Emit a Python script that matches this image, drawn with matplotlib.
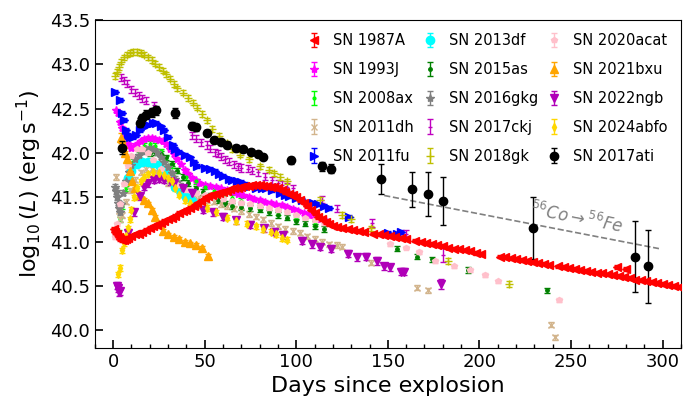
import numpy as np
import matplotlib
matplotlib.use("Agg")
import matplotlib.pyplot as plt
from matplotlib.ticker import MultipleLocator

# Data
# SN 1987A
d_87a = [0.5, 1, 2, 3, 4, 5, 6, 7, 8, 10, 12, 14, 16, 18, 20, 22, 24, 26, 28, 30,
         32, 34, 36, 38, 40, 42, 44, 46, 48, 50, 52, 54, 56, 58, 60, 62, 64, 66, 68, 70,
         72, 74, 76, 78, 80, 82, 84, 86, 88, 90, 92, 94, 96, 98, 100, 102, 104, 106, 108, 110,
         112, 114, 116, 118, 120, 122, 125, 128, 131, 134, 137, 142, 145, 148, 151, 154, 157, 160,
         165, 168, 171, 174, 177, 180, 183, 186, 189, 192, 195, 198, 201,
         211, 214, 217, 220, 223, 226, 229, 232, 235, 238,
         243, 246, 249, 252, 255, 258, 261, 264, 267, 270, 273, 275, 276, 279, 280, 282, 285,
         288, 291, 294, 297, 300, 303, 306, 309]
L_87a = [41.14, 41.11, 41.08, 41.05, 41.03, 41.02, 41.02, 41.03, 41.04, 41.06, 41.08, 41.09, 41.11, 41.13, 41.15, 41.17, 41.19, 41.21, 41.23, 41.25,
         41.27, 41.29, 41.32, 41.34, 41.36, 41.38, 41.40, 41.43, 41.46, 41.49, 41.51, 41.53, 41.54, 41.55, 41.56, 41.57, 41.59, 41.60, 41.61, 41.62,
         41.63, 41.63, 41.64, 41.64, 41.64, 41.63, 41.63, 41.62, 41.62, 41.60, 41.58, 41.56, 41.54, 41.52, 41.50, 41.47, 41.44, 41.40, 41.36, 41.32,
         41.28, 41.25, 41.22, 41.20, 41.18, 41.16, 41.15, 41.14, 41.13, 41.12, 41.11, 41.09, 41.08, 41.07, 41.06, 41.05, 41.04, 41.03,
         41.01, 41.00, 40.98, 40.97, 40.96, 40.95, 40.93, 40.92, 40.91, 40.90, 40.89, 40.87, 40.86,
         40.83, 40.82, 40.81, 40.80, 40.79, 40.78, 40.77, 40.76, 40.75, 40.74,
         40.72, 40.71, 40.70, 40.69, 40.68, 40.67, 40.66, 40.65, 40.64, 40.63, 40.62, 40.71, 40.61, 40.60, 40.69, 40.59, 40.57,
         40.56, 40.55, 40.54, 40.53, 40.52, 40.51, 40.50, 40.49]
e_87a = 0.02

# SN 1993J
d_93j = [1.5, 2.5, 4, 5, 6.5, 8, 9.5, 11, 13, 15, 17, 19, 21, 23, 25, 27, 29, 31, 33, 35,
         37, 39, 41, 43, 45, 47, 50, 53, 56, 59, 62, 65, 68, 71, 74, 77, 80, 83, 86, 89,
         92, 95, 98, 101, 104, 107, 110, 113, 116]
L_93j = [42.48, 42.45, 42.35, 42.28, 42.18, 42.10, 42.06, 42.07, 42.10, 42.14, 42.16, 42.17, 42.17, 42.16, 42.15, 42.13, 42.10, 42.05, 41.99, 41.93,
         41.87, 41.81, 41.76, 41.72, 41.69, 41.66, 41.64, 41.63, 41.62, 41.60, 41.58, 41.56, 41.54, 41.52, 41.50, 41.48, 41.47, 41.45, 41.44, 41.42,
         41.41, 41.39, 41.37, 41.35, 41.32, 41.30, 41.27, 41.25, 41.23]
e_93j = 0.02

# SN 2008ax
d_08ax = [3, 4, 5, 7, 9, 11, 14, 17, 20, 23, 26, 29, 32, 35, 40, 45, 50, 55, 60, 65,
          70, 80, 90, 100, 110]
L_08ax = [41.10, 41.25, 41.40, 41.60, 41.78, 41.90, 42.02, 42.08, 42.10, 42.08, 42.02, 41.94, 41.86, 41.80, 41.73, 41.68, 41.62, 41.57, 41.53, 41.49,
          41.46, 41.40, 41.33, 41.27, 41.20]
e_08ax = 0.03

# SN 2011dh
d_11dh = [1.5, 3, 4, 5, 7, 9, 12, 15, 18, 21, 24, 27, 30, 33, 36, 40, 44, 47, 51, 55,
          59, 62, 66, 70, 74, 78, 82, 86, 90, 94, 98, 102, 106, 110, 114, 118, 122, 125,
          141, 166, 172, 239, 241.5]
L_11dh = [41.73, 41.35, 41.25, 41.30, 41.45, 41.58, 41.70, 41.78, 41.82, 41.82, 41.78, 41.72, 41.66, 41.62, 41.58, 41.55, 41.52, 41.50, 41.47, 41.45,
          41.42, 41.40, 41.37, 41.34, 41.31, 41.28, 41.25, 41.21, 41.17, 41.14, 41.12, 41.10, 41.06, 41.03, 41.00, 40.97, 40.96, 40.94,
          40.76, 40.48, 40.45, 40.06, 39.92]
e_11dh = 0.03

# SN 2011fu
d_11fu = [1, 3.5, 5, 6, 7, 8, 9, 11, 12.5, 14.5, 17, 19, 21.5, 23.5, 26, 28, 30, 32.5, 34, 36,
          39, 42, 44, 46, 50, 53, 55.5, 58, 60, 63, 65, 67.5, 70, 72, 74.5, 78, 81.5, 83.5, 87, 91,
          94, 96, 100, 103, 109, 112, 115, 118, 129, 150, 155, 157]
L_11fu = [42.69, 42.60, 42.45, 42.37, 42.26, 42.20, 42.18, 42.18, 42.20, 42.26, 42.30, 42.32, 42.34, 42.34, 42.30, 42.26, 42.18, 42.09, 42.05, 42.01,
          41.98, 41.95, 41.90, 41.85, 41.83, 41.82, 41.80, 41.76, 41.74, 41.71, 41.70, 41.68, 41.67, 41.65, 41.63, 41.61, 41.60, 41.60, 41.58, 41.55,
          41.52, 41.51, 41.49, 41.47, 41.44, 41.42, 41.40, 41.38, 41.28, 41.10, 41.08, 41.11]
e_11fu = 0.02

# SN 2013df
d_13df = [8, 10, 13, 16, 19, 22, 25, 28, 31, 34, 37, 40, 43]
L_13df = [41.72, 41.80, 41.87, 41.90, 41.90, 41.89, 41.86, 41.80, 41.72, 41.62, 41.55, 41.50, 41.46]
e_13df = 0.02

# SN 2015as
d_15as = [20, 23, 26, 29, 32, 35, 38, 41, 45, 49, 53, 57, 61, 65, 70, 75, 80, 85, 90, 95,
          100, 105, 110, 115, 155, 166, 174, 194, 237]
L_15as = [42.00, 42.01, 41.99, 41.95, 41.88, 41.80, 41.73, 41.66, 41.60, 41.56, 41.52, 41.47, 41.43, 41.40, 41.39, 41.38, 41.36, 41.33, 41.30, 41.27,
          41.23, 41.20, 41.17, 41.14, 40.92, 40.83, 40.80, 40.68, 40.45]
e_15as = 0.03

# SN 2016gkg
d_16gkg = [1, 1.5, 2, 2.5, 3, 3.5, 4.5, 5.5, 7, 8.5, 10, 12, 14, 16, 18, 20, 22, 24, 26, 28,
           30, 32, 34, 36, 38]
L_16gkg = [41.62, 41.57, 41.50, 41.44, 41.38, 41.33, 41.42, 41.55, 41.68, 41.78, 41.86, 41.93, 41.98, 42.02, 42.04, 42.05, 42.04, 42.01, 41.96, 41.90,
           41.84, 41.77, 41.71, 41.65, 41.60]
e_16gkg = 0.03

# SN 2017ckj
d_17ckj = [4.5, 6, 7.5, 10, 12, 14, 16, 18, 22.5, 43, 45.5, 48, 51, 53, 55.5, 57, 59, 61, 63.5, 66,
           68, 70, 73.5, 76, 79, 83, 87, 90, 92, 95, 98, 114, 122, 141.5, 160, 180]
L_17ckj = [42.85, 42.82, 42.78, 42.72, 42.68, 42.65, 42.62, 42.59, 42.54, 42.20, 42.16, 42.12, 42.09, 42.05, 42.01, 41.99, 41.96, 41.93, 41.90, 41.87,
           41.85, 41.83, 41.82, 41.80, 41.78, 41.73, 41.69, 41.66, 41.64, 41.62, 41.60, 41.47, 41.37, 41.21, 41.08, 40.85]
e_17ckj = [0.04] * 31 + [0.04, 0.04, 0.05, 0.05, 0.08]

# SN 2018gk
d_18gk = [1, 2, 3, 4.5, 6, 7.5, 9, 11, 13, 15, 17, 19, 21, 23, 25, 27, 29, 31, 33, 35,
          38, 41, 43.5, 46, 48.5, 51, 54, 58, 62, 65, 69, 74, 80, 85, 88, 91, 95, 113, 125, 130,
          141, 183, 216]
L_18gk = [42.87, 42.92, 42.97, 43.03, 43.08, 43.11, 43.13, 43.14, 43.14, 43.13, 43.11, 43.08, 43.05, 43.01, 42.97, 42.93, 42.89, 42.84, 42.78, 42.73,
          42.68, 42.62, 42.57, 42.51, 42.44, 42.37, 42.27, 42.19, 42.11, 42.04, 41.98, 41.93, 41.85, 41.81, 41.77, 41.73, 41.68, 41.47, 41.30, 41.25,
          41.15, 40.78, 40.52]
e_18gk = 0.03

# SN 2020acat
d_20acat = [1, 2, 4, 6, 8, 10, 13, 16, 19, 22, 26, 30, 35, 40, 45, 50, 55, 60, 65, 70,
            75, 80, 85, 90, 95, 100, 105, 110, 115, 120, 151, 160, 167, 176, 186, 195, 203, 210, 243.5]
L_20acat = [41.05, 41.20, 41.42, 41.65, 41.85, 41.97, 42.05, 42.05, 42.00, 41.92, 41.82, 41.72, 41.64, 41.58, 41.55, 41.52, 41.50, 41.48, 41.46, 41.44,
            41.42, 41.40, 41.38, 41.36, 41.33, 41.30, 41.27, 41.24, 41.21, 41.18, 40.97, 40.93, 40.88, 40.78, 40.72, 40.68, 40.62, 40.55, 40.34]
e_20acat = 0.02

# SN 2021bxu
d_21bxu = [4.5, 5.5, 6.5, 7.5, 9, 10.5, 12, 14.5, 17, 19, 21, 23, 25, 27, 30, 33, 36, 39, 42, 45,
           48.5, 52]
L_21bxu = [42.17, 42.10, 42.00, 41.93, 41.80, 41.68, 41.60, 41.53, 41.47, 41.43, 41.36, 41.28, 41.20, 41.12, 41.08, 41.05, 41.03, 41.00, 40.98, 40.96,
           40.93, 40.84]
e_21bxu = [0.06] + [0.02] * 21

# SN 2022ngb
d_22ngb = [2, 2.5, 3, 3.5, 8, 11.5, 14.5, 17, 19, 22.5, 25, 28, 31, 33.5, 38, 43, 49, 54.5, 60, 67,
           74.5, 82.5, 88, 93, 103, 108.5, 113, 119, 128, 133, 138, 144, 148, 151, 157, 159, 179]
L_22ngb = [40.50, 40.47, 40.43, 40.44, 41.10, 41.33, 41.51, 41.62, 41.66, 41.70, 41.71, 41.70, 41.68, 41.66, 41.60, 41.55, 41.36, 41.33, 41.28, 41.24,
           41.19, 41.15, 41.11, 41.07, 41.01, 40.97, 40.94, 40.92, 40.86, 40.82, 40.83, 40.78, 40.72, 40.71, 40.66, 40.66, 40.52]
e_22ngb = [0.04] * 36 + [0.06]

# SN 2024abfo
d_24abfo = [2.5, 4, 5, 6, 7, 8, 9, 10, 11.6, 13, 15, 17, 19, 22, 25, 28, 30, 32, 34, 36,
            39, 42, 46, 51, 56, 62, 67, 73, 78, 82, 86, 89, 92, 95]
L_24abfo = [40.63, 40.70, 40.90, 40.98, 41.06, 41.15, 41.25, 41.36, 41.50, 41.60, 41.68, 41.73, 41.76, 41.78, 41.77, 41.75, 41.72, 41.68, 41.60, 41.53,
            41.47, 41.44, 41.41, 41.38, 41.33, 41.27, 41.23, 41.20, 41.17, 41.14, 41.11, 41.08, 41.04, 41.02]
e_24abfo = 0.03

# SN 2017ati
d_17ati = [5, 14.5, 16, 18, 21, 23.5, 34, 43, 45.5, 51, 55, 59, 62, 67, 71, 75.5, 79, 82, 97, 114,
           119, 146, 163, 172, 180, 229, 285, 292]
L_17ati = [42.06, 42.34, 42.39, 42.43, 42.46, 42.48, 42.45, 42.31, 42.29, 42.23, 42.15, 42.12, 42.09, 42.06, 42.04, 42.01, 41.99, 41.96, 41.92, 41.85,
           41.82, 41.71, 41.59, 41.54, 41.46, 41.15, 40.83, 40.72]
e_17ati = [0.07, 0.05, 0.05, 0.05, 0.05, 0.05, 0.06, 0.04, 0.04, 0.03, 0.03, 0.03, 0.03, 0.03, 0.03, 0.03, 0.03, 0.03, 0.04, 0.05,
           0.05, 0.17, 0.20, 0.25, 0.27, 0.35, 0.40, 0.41]

# 56Co -> 56Fe reference slope
co_days = [148, 298]
co_L = [41.52, 40.92]

# label, days, logL, err, colour, marker, size
series = [
    ("SN 1987A", d_87a, L_87a, e_87a, "red", "<", 6),
    ("SN 1993J", d_93j, L_93j, e_93j, "magenta", "*", 6),
    ("SN 2008ax", d_08ax, L_08ax, e_08ax, "lime", ".", 4),
    ("SN 2011dh", d_11dh, L_11dh, e_11dh, "tan", "x", 5),
    ("SN 2011fu", d_11fu, L_11fu, e_11fu, "blue", ">", 6),
    ("SN 2013df", d_13df, L_13df, e_13df, "cyan", "o", 6),
    ("SN 2015as", d_15as, L_15as, e_15as, "green", ".", 5),
    ("SN 2016gkg", d_16gkg, L_16gkg, e_16gkg, "grey", "*", 6),
    ("SN 2017ckj", d_17ckj, L_17ckj, e_17ckj, "m", "_", 3),
    ("SN 2018gk", d_18gk, L_18gk, e_18gk, "y", "+", 6),
    ("SN 2020acat", d_20acat, L_20acat, e_20acat, "pink", "p", 4),
    ("SN 2021bxu", d_21bxu, L_21bxu, e_21bxu, "orange", "^", 6),
    ("SN 2022ngb", d_22ngb, L_22ngb, e_22ngb, "#b000b8", "v", 6),
    ("SN 2024abfo", d_24abfo, L_24abfo, e_24abfo, "gold", "d", 4),
    ("SN 2017ati", d_17ati, L_17ati, e_17ati, "black", "o", 6),
]

fig, ax = plt.subplots(figsize=(6.92, 4.03), dpi=100)
fig.subplots_adjust(left=0.137, right=0.984, bottom=0.137, top=0.950)

for lab, dd, LL, ee, col, mk, ms in series:
    z = 3 if lab in ("SN 1987A", "SN 2017ati") else 2
    ax.errorbar(dd, LL, yerr=ee, fmt=mk, color=col, ms=ms, elinewidth=1.0,
                capsize=2, capthick=1.0, label=lab, zorder=z)

ax.plot(co_days, co_L, "--", color="grey", lw=1.2, zorder=1)
ax.text(253, 41.26, r"$^{56}Co\rightarrow^{56}Fe$", color="grey", fontsize=12,
        rotation=-11, ha="center", va="center")

ax.set_xlim(-10, 310)
ax.set_ylim(39.8, 43.5)
ax.xaxis.set_minor_locator(MultipleLocator(10))
ax.yaxis.set_major_locator(MultipleLocator(0.5))
ax.tick_params(axis="both", which="major", direction="in", length=6, width=1.2, labelsize=13)
ax.tick_params(axis="x", which="minor", direction="in", length=3, width=1)
ax.set_xlabel("Days since explosion", fontsize=16)
ax.set_ylabel(r"$\log_{10}(L)\ (\mathrm{erg\,s^{-1}})$", fontsize=16)

ax.legend(loc="upper right", ncol=3, frameon=False, fontsize=10.5, handlelength=1.0,
          handletextpad=0.8, columnspacing=0.6, labelspacing=0.95, borderaxespad=0.5)

plt.savefig("out.png", dpi=100)
